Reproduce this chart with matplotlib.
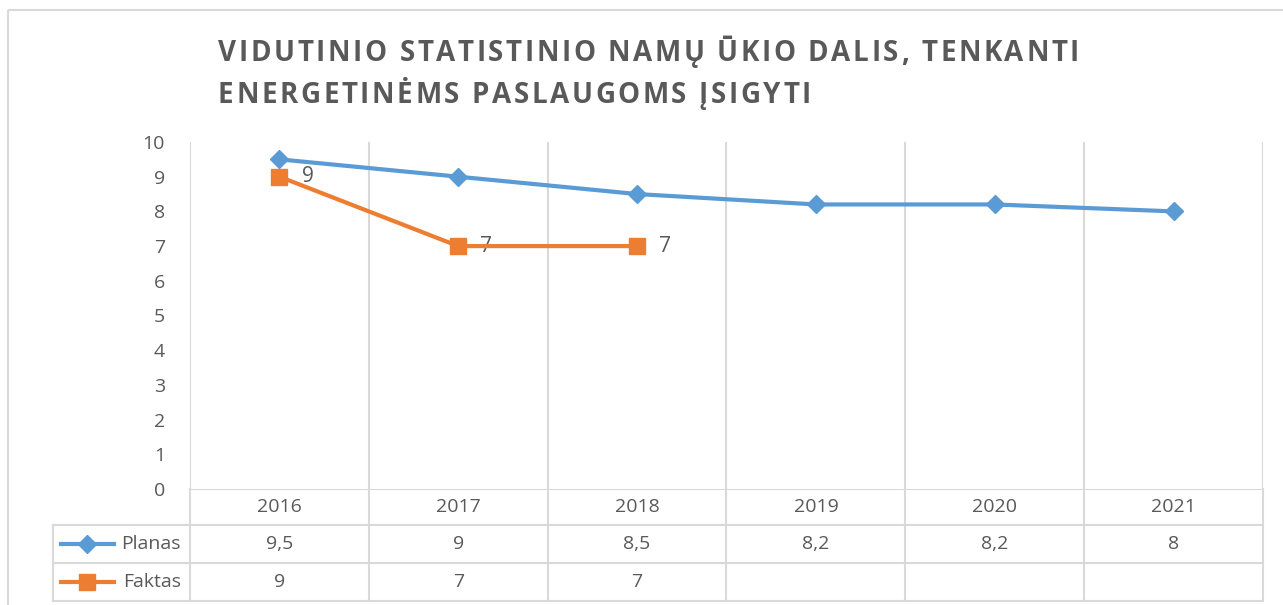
import matplotlib
matplotlib.use('Agg')
import matplotlib.pyplot as plt
from matplotlib.transforms import blended_transform_factory
from matplotlib.patches import Rectangle

years = ['2016', '2017', '2018', '2019', '2020', '2021']
planas = [9.5, 9, 8.5, 8.2, 8.2, 8]
faktas = [9, 7, 7]
planas_lbl = ['9,5', '9', '8,5', '8,2', '8,2', '8']
faktas_lbl = ['9', '7', '7']
title_lines = ['VIDUTINIO STATISTINIO NAMŲ ŪKIO DALIS, TENKANTI',
               'ENERGETINĖMS PASLAUGOMS ĮSIGYTI']

BLUE, ORANGE, TXT, GRID = '#5B9BD5', '#ED7D31', '#595959', '#D9D9D9'
plt.rcParams['font.family'] = ['Open Sans', 'DejaVu Sans']
FS = 14

W, H = 1283, 605
fig = plt.figure(figsize=(W / 100, H / 100), dpi=100)
# overlay in pixel coords (y down)
ov = fig.add_axes([0, 0, 1, 1])
ov.set_xlim(0, W); ov.set_ylim(H, 0); ov.axis('off')
ov.add_patch(Rectangle((8, 10), W + 10, H, fill=False, ec=GRID, lw=1.5))

x0, x1, ytop, ybot = 190, 1263, 142, 489
ax = fig.add_axes([x0 / W, (H - ybot) / H, (x1 - x0) / W, (ybot - ytop) / H])
n = len(years)
ax.set_xlim(-0.5, n - 0.5); ax.set_ylim(0, 10)
for s in ax.spines.values():
    s.set_visible(False)
ax.set_xticks([]); ax.set_yticks(range(11))
ax.tick_params(axis='y', length=0, labelsize=FS, labelcolor=TXT, pad=18)
for b in range(n + 1):
    ax.axvline(b - 0.5, color=GRID, lw=1.5, zorder=0)

xs = list(range(n))
ax.plot(xs, planas, color=BLUE, lw=3, marker='D', ms=9, zorder=3, clip_on=False)
ax.plot(xs[:len(faktas)], faktas, color=ORANGE, lw=3, marker='s', ms=12, zorder=4, clip_on=False)
for x, v, l in zip(xs, faktas, faktas_lbl):
    ax.annotate(l, (x, v), xytext=(16, 0), textcoords='offset points', va='center',
                fontsize=FS + 1, color=TXT)

# title with letter spacing, drawn char by char
r = fig.canvas.get_renderer()
for line, base in zip(title_lines, [61, 103]):
    cx = 218
    for ch in line:
        t = ov.text(cx, base, ch, ha='left', va='baseline', fontsize=20, fontweight='bold',
                    color=TXT)
        w = t.get_window_extent(r).width
        cx += w + 2.6

# data table
tr = blended_transform_factory(ax.transData, ov.transData)
rows = [489, 525, 563, 601]
ov.plot([x0, x1], [rows[0]] * 2, color=GRID, lw=1.5)
for y in rows[1:]:
    ov.plot([53, x1], [y, y], color=GRID, lw=1.5)
ov.plot([53, 53], [rows[1], rows[3]], color=GRID, lw=1.5)
for b in range(n + 1):
    ov.plot([b - 0.5, b - 0.5], [rows[0], rows[3]], color=GRID, lw=1.5, transform=tr)
for i in range(n):
    ov.text(i, (rows[0] + rows[1]) / 2, years[i], transform=tr, ha='center', va='center',
            fontsize=FS, color=TXT)
    ov.text(i, (rows[1] + rows[2]) / 2, planas_lbl[i], transform=tr, ha='center', va='center',
            fontsize=FS, color=TXT)
    if i < len(faktas_lbl):
        ov.text(i, (rows[2] + rows[3]) / 2, faktas_lbl[i], transform=tr, ha='center', va='center',
                fontsize=FS, color=TXT)
for (lbl, c, m, ms), (ya, yb) in zip([('Planas', BLUE, 'D', 9), ('Faktas', ORANGE, 's', 12)],
                                      [(rows[1], rows[2]), (rows[2], rows[3])]):
    yc = (ya + yb) / 2
    ov.plot([61, 114], [yc, yc], color=c, lw=3)
    ov.plot([87], [yc], color=c, marker=m, ms=ms)
    ov.text(181, yc, lbl, ha='right', va='center', fontsize=FS, color=TXT)

fig.savefig('out.png', dpi=100)
